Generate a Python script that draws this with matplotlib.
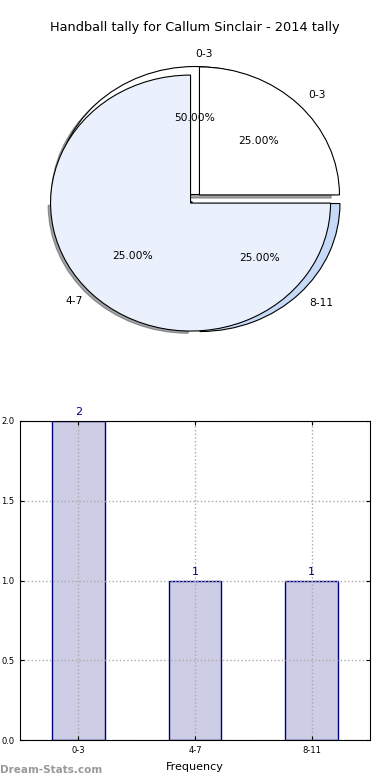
import numpy as np
import matplotlib.pyplot as plt
from matplotlib.patches import Shadow

# data
groups = ['0-3', '4-7', '8-11']
counts = [2, 1, 1]

# second pie that sits on top in the original image
front_labels = ['0-3', '']
front_counts = [1, 3]

title = 'Handball tally for Callum Sinclair - 2014 tally'

fig = plt.figure(figsize=(3.9, 7.8), dpi=100)

# pie (drawn on non-equal aspect axes, so it comes out as an ellipse)
ax1 = fig.add_axes([20 / 390, 1 - 359 / 780, 350 / 390, 320 / 780])
w1, t1, p1 = ax1.pie(counts, labels=groups, colors=['white', '#eaf1fd', '#c6d9f7'],
                     explode=[0.035, 0.03, 0.05], autopct='%.2f%%', shadow=True, startangle=0,
                     wedgeprops={'edgecolor': 'black', 'linewidth': 0.8},
                     textprops={'fontsize': 7.7})
t1[0].set_horizontalalignment('left')
# no shadow under the 8-11 sliver
for p in list(ax1.patches):
    if isinstance(p, Shadow) and p.patch is w1[2]:
        p.remove()
w2, t2, p2 = ax1.pie(front_counts, labels=front_labels, colors=['white', '#eaf1fd'],
                     explode=[0.045, 0.045], startangle=0,
                     autopct=lambda p: '%.2f%%' % p if p < 50 else '',
                     wedgeprops={'edgecolor': 'black', 'linewidth': 0.8},
                     textprops={'fontsize': 7.7})
ax1.set_aspect('auto')
ax1.set_xlim(-1.25, 1.25)
ax1.set_ylim(-1.25, 1.25)
ax1.set_title(title, fontsize=9.3)

# bars
ax2 = fig.add_axes([20 / 390, 1 - 740 / 780, 350 / 390, 319 / 780])
x = np.arange(len(groups))
ax2.bar(x, counts, width=0.45, color='#cdcde5', edgecolor='navy', linewidth=1, zorder=2)
for xi, v in zip(x, counts):
    ax2.text(xi, v + 0.025, str(v), ha='center', va='bottom', color='navy', fontsize=8)
ax2.set_xlim(-0.5, 2.5)
ax2.set_ylim(0, 2.0)
ax2.set_yticks([0.0, 0.5, 1.0, 1.5, 2.0])
ax2.set_yticklabels(['0.0', '0.5', '1.0', '1.5', '2.0'])
ax2.set_xticks(x)
ax2.set_xticklabels(groups)
ax2.tick_params(labelsize=6, direction='in', top=True, right=True, length=3, pad=4)
ax2.grid(True, linestyle=':', color='#aaaaaa', linewidth=1, zorder=3)
ax2.set_axisbelow(False)
for s in ax2.spines.values():
    s.set_zorder(4)
ax2.set_xlabel('Frequency', fontsize=8, labelpad=5)

fig.text(0.0, 1 - 770 / 780, 'Dream-Stats.com', color='#999999', fontsize=7.5,
         fontweight='bold', va='center', ha='left')

fig.savefig('out.png', dpi=100)
